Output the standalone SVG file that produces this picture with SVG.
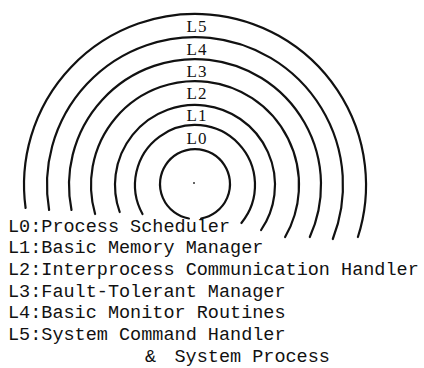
<svg xmlns="http://www.w3.org/2000/svg" width="424" height="368" viewBox="0 0 424 368">
  <style>
    .ring { fill: none; stroke: #111; stroke-width: 2.2; stroke-linecap: round; }
    .lvl { font-family: "Liberation Serif", "Times New Roman", serif; font-size: 17px; letter-spacing: 1px; fill: #111; text-anchor: middle; }
    .key { font-family: "Liberation Mono", "Courier New", monospace; font-size: 18.5px; fill: #111; }
  </style>
  <rect width="424" height="368" fill="#fff"/>

  <!-- concentric layers, open at the bottom where the key sits -->
  <g id="layers">
    <g id="core">
      <path class="ring" d="M188.9 218.5 A35 35 0 1 1 201.1 218.5"/>
      <circle cx="194" cy="183" r="1" fill="#333"/>
    </g>
    <g id="layer-l0">
      <path class="ring" d="M142.5 214 A60 60 0 1 1 241.4 223"/>
      <text class="lvl" x="197" y="144">L0</text>
    </g>
    <g id="layer-l1">
      <path class="ring" d="M119.7 212 A80 80 0 1 1 261.1 230"/>
      <text class="lvl" x="197" y="121">L1</text>
    </g>
    <g id="layer-l2">
      <path class="ring" d="M95.1 214 A104 104 0 1 1 285.1 237"/>
      <text class="lvl" x="197" y="99">L2</text>
    </g>
    <g id="layer-l3">
      <path class="ring" d="M71.5 210 A126 126 0 1 1 309.8 237"/>
      <text class="lvl" x="197" y="77">L3</text>
    </g>
    <g id="layer-l4">
      <path class="ring" d="M49.1 210 A148 148 0 1 1 332.8 239"/>
      <text class="lvl" x="197" y="54.5">L4</text>
    </g>
    <g id="layer-l5">
      <path class="ring" d="M25.6 208 A171 171 0 1 1 357.9 237"/>
      <text class="lvl" x="197" y="32">L5</text>
    </g>
  </g>

  <!-- key -->
  <g id="key">
    <text class="key" x="8" y="231.5">L0:Process Scheduler</text>
    <text class="key" x="8" y="253.2">L1:Basic Memory Manager</text>
    <text class="key" x="8" y="274.9">L2:Interprocess Communication Handler</text>
    <text class="key" x="8" y="296.6">L3:Fault-Tolerant Manager</text>
    <text class="key" x="8" y="318.3">L4:Basic Monitor Routines</text>
    <text class="key" x="8" y="340">L5:System Command Handler</text>
    <text class="key" y="361.7"><tspan x="145">&amp;</tspan><tspan x="174.5">System Process</tspan></text>
  </g>
</svg>
